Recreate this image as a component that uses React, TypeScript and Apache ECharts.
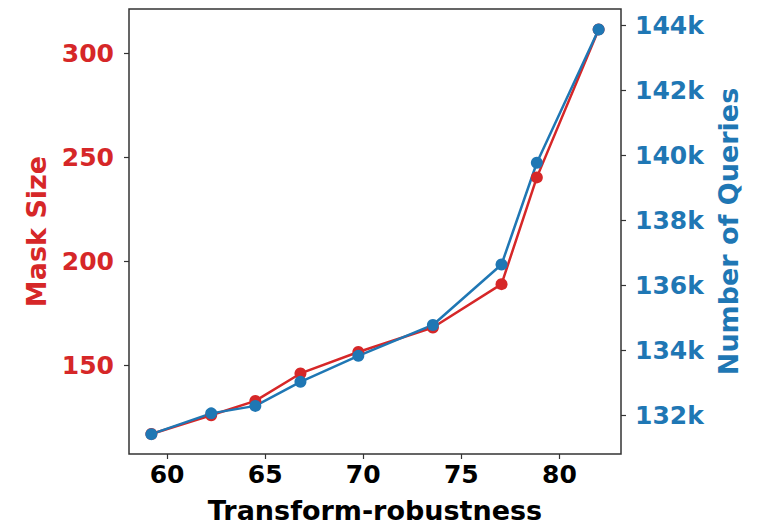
import React, { useEffect, useRef } from "react";
import * as echarts from "echarts";

const robustness = [59.2, 62.25, 64.5, 66.8, 69.75, 73.55, 77.05, 78.85, 82.0];
const maskSize = [117.1, 126.1, 133.0, 146.2, 156.5, 168.3, 189.1, 240.4, 311.5];
const queries = [131420, 132060, 132290, 133030, 133830, 134780, 136640, 139770, 143870];

const xTicks = [60, 65, 70, 75, 80];
const maskTicks = [150, 200, 250, 300];
const queryTicks = [132000, 134000, 136000, 138000, 140000, 142000, 144000];

const xRange = [58.06, 83.14];
const maskRange = [107.5, 321.3];
const queryRange = [130810, 144500];

const RED = "#d62728";
const BLUE = "#1f77b4";
const FONT = "DejaVu Sans";

export default function App() {
  const ref = useRef<HTMLDivElement>(null);
  useEffect(() => {
    if (!ref.current) return;
    const chart = echarts.init(ref.current, undefined, { renderer: "svg" });
    const tick = { show: true, length: 5, lineStyle: { color: "#333", width: 1.2 } };
    chart.setOption({
      animation: false,
      backgroundColor: "#ffffff",
      grid: {
        left: 129,
        top: 9,
        width: 492,
        height: 448,
        show: true,
        borderColor: "#333",
        borderWidth: 1.5,
        backgroundColor: "transparent",
      },
      xAxis: {
        type: "value",
        min: xRange[0],
        max: xRange[1],
        splitLine: { show: false },
        axisLine: { show: false },
        axisTick: { ...tick, customValues: xTicks },
        axisLabel: {
          customValues: xTicks,
          margin: 8,
          color: "#000",
          fontFamily: FONT,
          fontWeight: "bold",
          fontSize: 25,
        },
        name: "Transform-robustness",
        nameLocation: "middle",
        nameGap: 43,
        nameTextStyle: { color: "#000", fontFamily: FONT, fontWeight: "bold", fontSize: 27 },
      },
      yAxis: [
        {
          type: "value",
          position: "left",
          min: maskRange[0],
          max: maskRange[1],
          splitLine: { show: false },
          axisLine: { show: false },
          axisTick: { ...tick, customValues: maskTicks },
          axisLabel: {
            customValues: maskTicks,
            margin: 15,
            color: RED,
            fontFamily: FONT,
            fontWeight: "bold",
            fontSize: 25,
          },
          name: "Mask Size",
          nameLocation: "middle",
          nameGap: 79,
          nameTextStyle: { color: RED, fontFamily: FONT, fontWeight: "bold", fontSize: 27 },
        },
        {
          type: "value",
          position: "right",
          min: queryRange[0],
          max: queryRange[1],
          splitLine: { show: false },
          axisLine: { show: false },
          axisTick: { ...tick, customValues: queryTicks },
          axisLabel: {
            customValues: queryTicks,
            margin: 14,
            color: BLUE,
            fontFamily: FONT,
            fontWeight: "bold",
            fontSize: 25,
            formatter: (v: number) => `${Math.round(v / 1000)}k`,
          },
          name: "Number of Queries",
          nameLocation: "middle",
          nameGap: 88,
          nameTextStyle: { color: BLUE, fontFamily: FONT, fontWeight: "bold", fontSize: 27 },
        },
      ],
      series: [
        {
          type: "line",
          yAxisIndex: 0,
          data: robustness.map((x, i) => [x, maskSize[i]]),
          color: RED,
          lineStyle: { color: RED, width: 2.5 },
          itemStyle: { color: RED },
          symbol: "circle",
          symbolSize: 12,
        },
        {
          type: "line",
          yAxisIndex: 1,
          data: robustness.map((x, i) => [x, queries[i]]),
          color: BLUE,
          lineStyle: { color: BLUE, width: 2.5 },
          itemStyle: { color: BLUE },
          symbol: "circle",
          symbolSize: 12,
        },
      ],
    });
    return () => chart.dispose();
  }, []);
  return <div ref={ref} style={{ width: 760, height: 529, position: "absolute", left: 0, top: 0 }} />;
}
